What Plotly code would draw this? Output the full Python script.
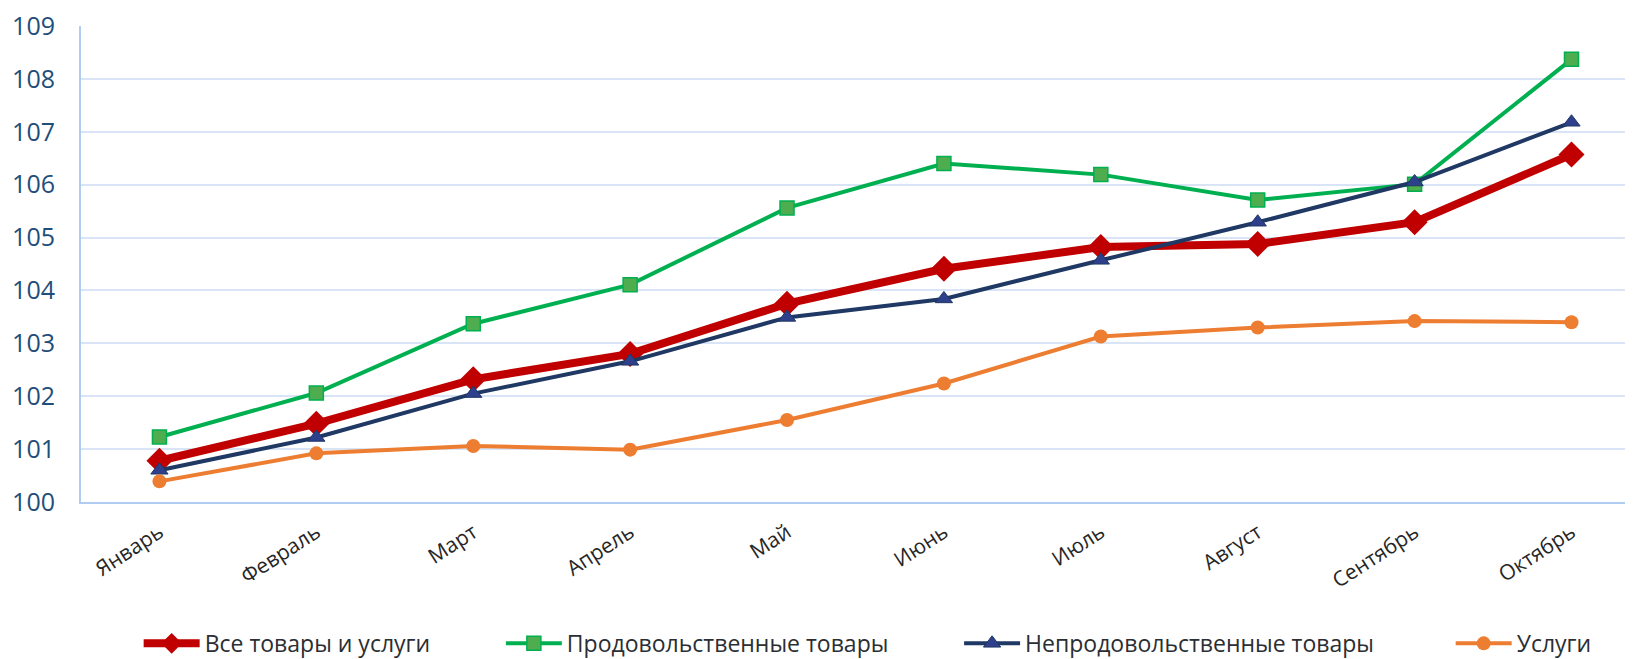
import plotly.graph_objects as go

months = ["Январь", "Февраль", "Март", "Апрель", "Май", "Июнь",
          "Июль", "Август", "Сентябрь", "Октябрь"]

all_goods = [100.78, 101.48, 102.32, 102.80, 103.75, 104.41, 104.82, 104.88, 105.29, 106.57]
food = [101.23, 102.06, 103.37, 104.11, 105.56, 106.40, 106.19, 105.71, 106.01, 108.37]
non_food = [100.60, 101.22, 102.05, 102.66, 103.49, 103.84, 104.57, 105.29, 106.05, 107.18]
services = [100.39, 100.92, 101.06, 100.99, 101.55, 102.24, 103.13, 103.30, 103.42, 103.40]

# name, values, line colour, line width, marker, trailing gap (nbsp count) in legend
series = [
    ("Все товары и услуги", all_goods, "#C00000", 8,
     {"symbol": "diamond", "size": 20, "color": "#C00000"}, 11),
    ("Продовольственные товары", food, "#00B050", 4,
     {"symbol": "square", "size": 14, "color": "#4EAD4E", "line": {"color": "#00B050", "width": 1.5}}, 11),
    ("Непродовольственные товары", non_food, "#1F3864", 4,
     {"symbol": "triangle-up", "size": 15, "color": "#2E3F8C", "line": {"color": "#1F3864", "width": 1}}, 12),
    ("Услуги", services, "#ED7D31", 4,
     {"symbol": "circle", "size": 14, "color": "#ED7D31"}, 0),
]

fig = go.Figure()
for name, values, color, width, marker, gap in series:
    fig.add_trace(
        go.Scatter(
            x=list(range(len(months))),
            y=values,
            mode="lines+markers",
            name=name + "\u00a0" * gap,
            line={"color": color, "width": width},
            marker=marker,
        )
    )

# page body has an 8px margin, so the figure is sized to fit the window
fig.update_layout(
    width=1625,
    height=651,
    paper_bgcolor="white",
    plot_bgcolor="white",
    margin={"l": 73, "r": 0, "t": 14, "b": 157},
    font={"family": "Open Sans, sans-serif", "color": "#2B2B2B"},
    legend={
        "orientation": "h",
        "xref": "container",
        "yref": "container",
        "x": 0.0804,
        "xanchor": "left",
        "y": 0.024,
        "yanchor": "middle",
        "font": {"size": 23, "color": "#2B2E33"},
        "itemwidth": 56,
        "tracegroupgap": 0,
    },
)
fig.update_xaxes(
    tickmode="array",
    tickvals=list(range(len(months))),
    ticktext=months,
    range=[-0.5, 9.392],
    tickangle=-33,
    tickfont={"size": 21, "family": "Open Sans, sans-serif", "color": "#262626"},
    showgrid=False,
    showline=True,
    linecolor="#B0CCF0",
    linewidth=2,
    zeroline=False,
    ticks="",
    ticklabelstandoff=8,
)
fig.update_yaxes(
    range=[100, 109],
    dtick=1,
    tickfont={"size": 25, "color": "#1F4E79"},
    ticklabeloverflow="allow",
    showgrid=True,
    gridcolor="#D9E5F6",
    gridwidth=1.5,
    showline=True,
    linecolor="#B0CCF0",
    linewidth=2,
    zeroline=False,
    ticklabelstandoff=19,
)

fig.write_html("out.html")
